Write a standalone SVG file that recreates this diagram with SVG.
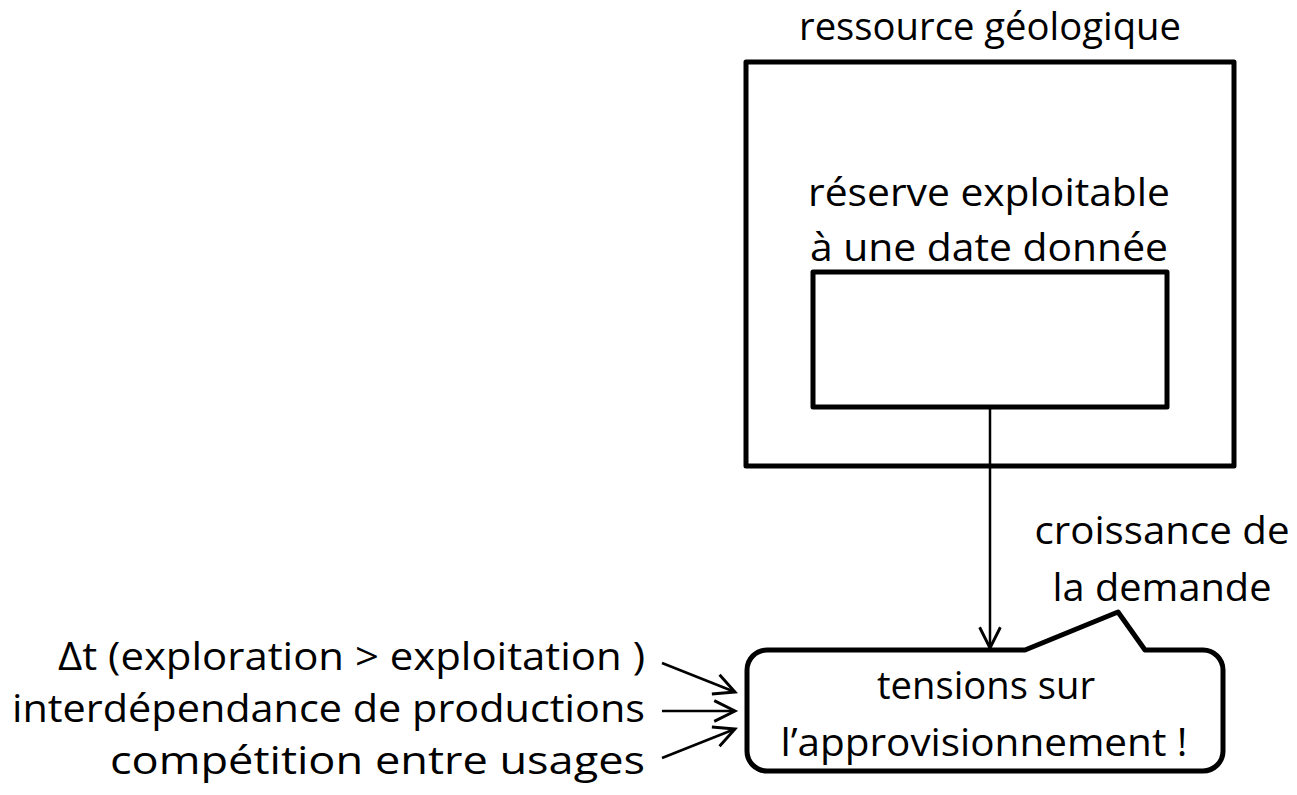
<svg xmlns="http://www.w3.org/2000/svg" width="1297" height="795" viewBox="0 0 1297 795">
<style>
text{font-family:"Open Sans","Noto Sans","Liberation Sans",sans-serif;font-size:38px;fill:#000}
.c{text-anchor:middle}
.e{text-anchor:end}
.box{fill:none;stroke:#000;stroke-width:5;stroke-linejoin:round}
.con{fill:none;stroke:#000;stroke-width:2.5}
</style>
<defs>
<marker id="arr" markerUnits="userSpaceOnUse" markerWidth="30" markerHeight="30" viewBox="-22 -12 26 24" refX="0" refY="0" orient="auto">
<path d="M-18,-9 L0,0 L-18,9" fill="none" stroke="#000" stroke-width="2.5"/>
</marker>
</defs>
<rect width="1297" height="795" fill="#fff"/>
<g id="ressource">
<rect class="box" x="746" y="62" width="488" height="404"/>
<text class="c" x="990" y="40" font-size="36" textLength="382" lengthAdjust="spacingAndGlyphs">ressource géologique</text>
</g>
<g id="reserve">
<rect class="box" x="813" y="272" width="354" height="135"/>
<text class="c" x="989" y="206" textLength="362" lengthAdjust="spacingAndGlyphs">réserve exploitable</text>
<text class="c" x="989" y="261" textLength="358" lengthAdjust="spacingAndGlyphs">à une date donnée</text>
</g>
<g id="tensions">
<path class="box" d="M767,650 L1025,650 L1118,612 L1145,650 L1203,650 A20,20 0 0 1 1223,670 L1223,751 A20,20 0 0 1 1203,771 L767,771 A20,20 0 0 1 747,751 L747,670 A20,20 0 0 1 767,650 Z"/>
<text class="c" x="986" y="699" textLength="218" lengthAdjust="spacingAndGlyphs">tensions sur</text>
<text class="c" x="984" y="756" textLength="407" lengthAdjust="spacingAndGlyphs">l’approvisionnement !</text>
</g>
<g id="demande">
<text class="c" x="1162" y="544" textLength="255" lengthAdjust="spacingAndGlyphs">croissance de</text>
<text class="c" x="1162" y="601" textLength="219" lengthAdjust="spacingAndGlyphs">la demande</text>
</g>
<g id="facteurs">
<text class="e" x="645" y="670" textLength="587" lengthAdjust="spacingAndGlyphs">Δt (exploration &gt; exploitation )</text>
<text class="e" x="645" y="722" textLength="633" lengthAdjust="spacingAndGlyphs">interdépendance de productions</text>
<text class="e" x="645" y="774" textLength="535" lengthAdjust="spacingAndGlyphs">compétition entre usages</text>
</g>
<g id="connectors">
<line class="con" x1="990" y1="407" x2="990" y2="648" marker-end="url(#arr)"/>
<line class="con" x1="662" y1="663" x2="735" y2="692" marker-end="url(#arr)"/>
<line class="con" x1="662" y1="711" x2="735" y2="711" marker-end="url(#arr)"/>
<line class="con" x1="662" y1="758" x2="735" y2="729" marker-end="url(#arr)"/>
</g>
</svg>
